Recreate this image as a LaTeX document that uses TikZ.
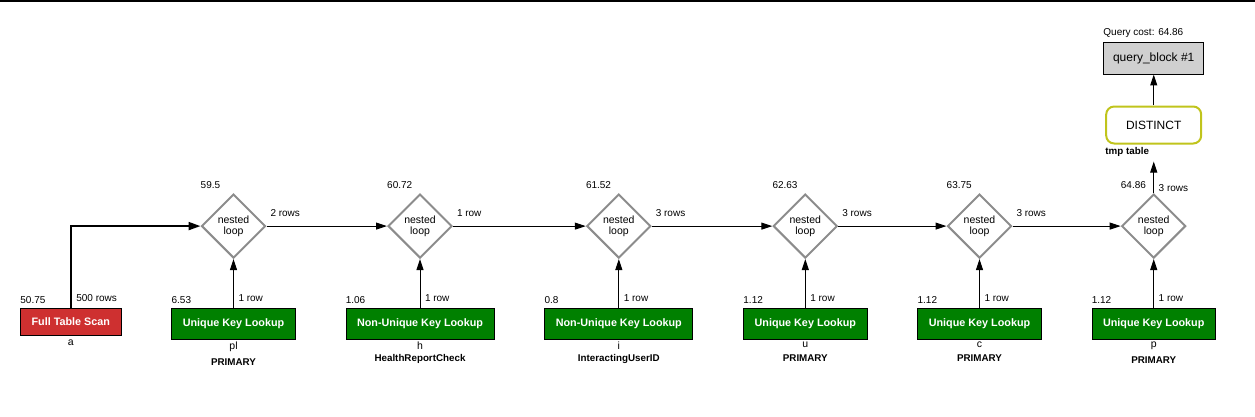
\documentclass[tikz,border=0pt]{standalone}
\usepackage{fontspec}
\setmainfont{Liberation Sans}
\usetikzlibrary{matrix,positioning,arrows.meta,shapes.geometric}
\definecolor{scanred}{RGB}{206,48,48}
\definecolor{lookupgreen}{RGB}{0,128,0}
\definecolor{loopgray}{RGB}{140,140,140}
\definecolor{distinctolive}{RGB}{192,196,28}
\definecolor{blockgray}{RGB}{208,208,208}
\tikzset{
  opbox/.style={draw=black, line width=0.8pt, text=white, anchor=north,
    font=\fontsize{10.8}{13}\selectfont\bfseries, inner xsep=11pt, minimum height=31.6pt},
  scanbox/.style={opbox, fill=scanred, minimum height=27.2pt},
  lookup/.style={opbox, fill=lookupgreen},
  nloop/.style={diamond, draw=loopgray, line width=2pt, minimum width=64pt, minimum height=64pt,
    inner sep=0pt, text width=36pt, align=center, font=\fontsize{10.5}{11}\selectfont},
  distinctbox/.style={draw=distinctolive, line width=2pt, rounded corners=8pt,
    minimum width=95pt, minimum height=37pt, font=\fontsize{12}{14}\selectfont},
  blockbox/.style={draw=black, line width=1pt, fill=blockgray, minimum width=100pt,
    minimum height=31.3pt, font=\fontsize{12}{14}\selectfont},
  num/.style={font=\fontsize{10}{12}\selectfont, inner xsep=0pt, inner ysep=4pt},
  rowlbl/.style={font=\fontsize{10}{12}\selectfont, inner xsep=3.5pt, inner ysep=8.5pt, anchor=south west, pos=0},
  uplbl/.style={font=\fontsize{10}{12}\selectfont, inner xsep=4.5pt, inner ysep=5.5pt, anchor=south west, pos=0},
  tbl/.style={font=\fontsize{10.5}{12}\selectfont, inner sep=2pt},
  idx/.style={font=\fontsize{9.8}{12}\selectfont\bfseries, inner sep=2pt}
}
\begin{document}
\begin{tikzpicture}[x=1pt, y=-1pt, >={Triangle[length=11pt,width=7pt]}]
\useasboundingbox (0,0) rectangle (1255,417);
\draw[line width=1.6pt] (0,0.8) -- (1255,0.8);
\matrix (m) [matrix of nodes, row sep=50pt, column sep=50pt, inner sep=0pt, nodes={anchor=center}, anchor=north west] at (20,42)
{ & & & & & & |[blockbox]| query\_block \#1 \\[-19pt]
  & & & & & & |[distinctbox]| DISTINCT \\[-1pt]
  & |[nloop]| nested loop & |[nloop]| nested loop & |[nloop]| nested loop & |[nloop]| nested loop & |[nloop]| nested loop & |[nloop]| nested loop \\[-1pt]
  |[scanbox]| Full Table Scan & |[lookup]| Unique Key Lookup & |[lookup]| Non-Unique Key Lookup & |[lookup]| Non-Unique Key Lookup & |[lookup]| Unique Key Lookup & |[lookup]| Unique Key Lookup & |[lookup]| Unique Key Lookup \\
};
\draw[->, line width=2pt, >={Triangle[length=12pt,width=8pt]}]
(m-4-1) |- node[uplbl] {500 rows} (m-3-2);
\path[->, line width=1pt]
(m-4-2) edge node[uplbl] {1 row} (m-3-2)
(m-4-3) edge node[uplbl] {1 row} (m-3-3)
(m-4-4) edge node[uplbl] {1 row} (m-3-4)
(m-4-5) edge node[uplbl] {1 row} (m-3-5)
(m-4-6) edge node[uplbl] {1 row} (m-3-6)
(m-4-7) edge node[uplbl] {1 row} (m-3-7);
\path[->, line width=1pt]
(m-3-2) edge node[rowlbl] {2 rows} (m-3-3)
(m-3-3) edge node[rowlbl] {1 row} (m-3-4)
(m-3-4) edge node[rowlbl] {3 rows} (m-3-5)
(m-3-5) edge node[rowlbl] {3 rows} (m-3-6)
(m-3-6) edge node[rowlbl] {3 rows} (m-3-7);
\path[->, line width=1pt]
(m-3-7) edge[shorten >=17pt] node[uplbl, yshift=-5pt] {3 rows} (m-2-7)
(m-2-7) edge (m-1-7);
\node[num, anchor=south west] at (m-3-2.west |- m-3-2.north) {59.5};
\node[num, anchor=south west] at (m-3-3.west |- m-3-3.north) {60.72};
\node[num, anchor=south west] at (m-3-4.west |- m-3-4.north) {61.52};
\node[num, anchor=south west] at (m-3-5.west |- m-3-5.north) {62.63};
\node[num, anchor=south west] at (m-3-6.west |- m-3-6.north) {63.75};
\node[num, anchor=south west] at (m-3-7.west |- m-3-7.north) {64.86};
\node[num, above right=0pt of m-4-1.north west] {50.75};
\node[num, above right=0pt of m-4-2.north west] {6.53};
\node[num, above right=0pt of m-4-3.north west] {1.06};
\node[num, above right=0pt of m-4-4.north west] {0.8};
\node[num, above right=0pt of m-4-5.north west] {1.12};
\node[num, above right=0pt of m-4-6.north west] {1.12};
\node[num, above right=0pt of m-4-7.north west] {1.12};
\node[num, above right=0pt of m-1-7.north west] {Query cost: 64.86};
\node[idx, below right=0pt of m-2-7.south west, inner xsep=0pt, inner ysep=3pt] {tmp table};
\node[tbl, below=2pt of m-4-1] {a};
\node[tbl, below=0pt of m-4-2] (tpl) {pl};
\node[idx, below=2pt of tpl] {PRIMARY};
\node[tbl, below=0pt of m-4-3] (th) {h};
\node[idx, below=0pt of th] {HealthReportCheck};
\node[tbl, below=0pt of m-4-4] (ti) {i};
\node[idx, below=0pt of ti] {InteractingUserID};
\node[tbl, below=0pt of m-4-5] (tu) {u};
\node[idx, below=2pt of tu] {PRIMARY};
\node[tbl, below=0pt of m-4-6] (tc) {c};
\node[idx, below=2pt of tc] {PRIMARY};
\node[tbl, below=0pt of m-4-7] (tp) {p};
\node[idx, below=2pt of tp] {PRIMARY};
\end{tikzpicture}
\end{document}
